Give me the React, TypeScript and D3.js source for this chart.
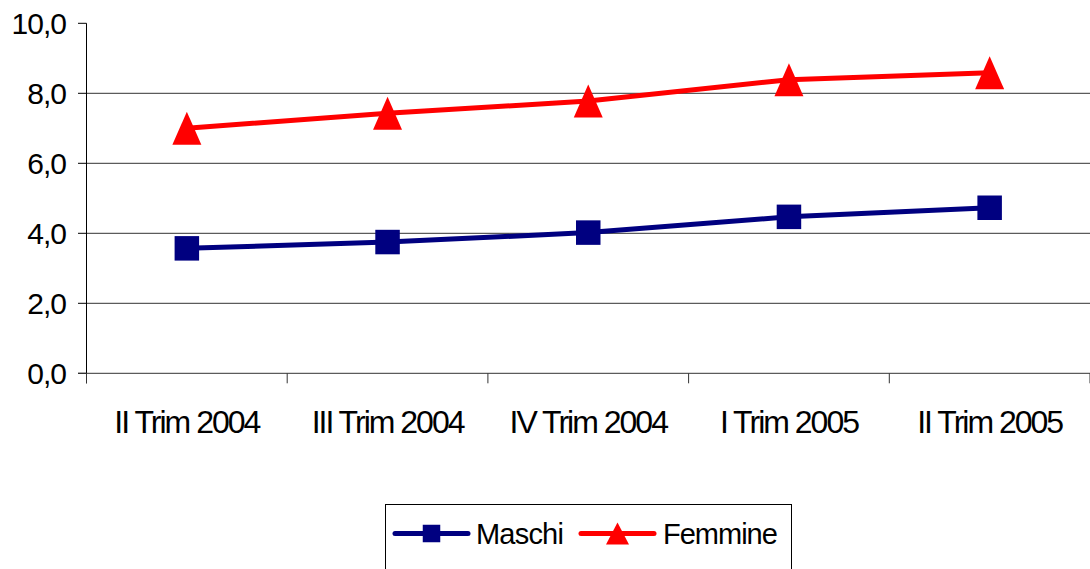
import React from "react";
import * as d3 from "d3";

const WIDTH = 1090;
const HEIGHT = 569;
const MARGIN = { top: 23.3, right: 0, bottom: 195.7, left: 86.5 };

const categories = ["II Trim 2004", "III Trim 2004", "IV Trim 2004", "I Trim 2005", "II Trim 2005"];
const maschi = [3.57, 3.75, 4.02, 4.47, 4.73];
const femmine = [7.0, 7.43, 7.78, 8.39, 8.59];
const yTicks = [0, 2, 4, 6, 8, 10];
const seriesNames = ["Maschi", "Femmine"];

const NAVY = "#000080";
const RED = "#ff0000";
const FONT = "'Liberation Sans', Arial, sans-serif";

const fmt = (v: number) => v.toFixed(1).replace(".", ",");

const Square = ({ x, y, s }: { x: number; y: number; s: number }) => (
  <rect x={x - s / 2} y={y - s / 2} width={s} height={s} fill={NAVY} />
);

const Triangle = ({ x, y, w, h }: { x: number; y: number; w: number; h: number }) => (
  <path
    d={`M${x},${y - h / 2} L${x + w / 2},${y + h / 2} L${x - w / 2},${y + h / 2} Z`}
    fill={RED}
  />
);

export default function App() {
  const boundsW = WIDTH - MARGIN.left - MARGIN.right;
  const boundsH = HEIGHT - MARGIN.top - MARGIN.bottom;

  const x = d3.scaleBand<string>().domain(categories).range([0, boundsW]);
  const y = d3.scaleLinear().domain([0, 10]).range([boundsH, 0]);
  const cx = (c: string) => (x(c) || 0) + x.bandwidth() / 2;

  const line = d3
    .line<number>()
    .x((_, i) => cx(categories[i]))
    .y((d) => y(d));

  // tick boundaries between categories
  const bounds = categories.map((c) => x(c) || 0).concat([boundsW]);

  return (
    <div style={{ position: "absolute", left: 0, top: 0 }}>
      <svg width={WIDTH} height={HEIGHT} style={{ display: "block", background: "#fff" }}>
        <g transform={`translate(${MARGIN.left},${MARGIN.top})`}>
          {/* gridlines */}
          {yTicks.filter((t) => t > 0 && t < 10).map((t) => (
            <line key={t} x1={0} x2={boundsW} y1={y(t)} y2={y(t)} stroke="#333" strokeWidth={1} />
          ))}
          {/* y axis */}
          <line x1={0} x2={0} y1={y(10)} y2={boundsH + 10} stroke="#000" strokeWidth={1} />
          {yTicks.map((t) => (
            <g key={t}>
              <line x1={-8.5} x2={0} y1={y(t)} y2={y(t)} stroke="#000" strokeWidth={1} />
              <text
                x={-20.5}
                y={y(t)}
                dy="0.35em"
                textAnchor="end"
                fontFamily={FONT}
                fontSize={30}
                letterSpacing={-1}
                fill="#000"
              >
                {fmt(t)}
              </text>
            </g>
          ))}
          {/* x axis */}
          <line x1={-8.5} x2={boundsW} y1={boundsH} y2={boundsH} stroke="#333" strokeWidth={1} />
          {bounds.map((b, i) => (
            <line key={i} x1={b} x2={b} y1={boundsH} y2={boundsH + 10} stroke="#333" strokeWidth={1} />
          ))}
          {categories.map((c) => (
            <text
              key={c}
              x={cx(c)}
              y={boundsH + 59.4}
              textAnchor="middle"
              fontFamily={FONT}
              fontSize={32}
              letterSpacing={-2}
              fill="#000"
            >
              {c}
            </text>
          ))}
          {/* series */}
          <path d={line(maschi) || ""} fill="none" stroke={NAVY} strokeWidth={5} />
          <path d={line(femmine) || ""} fill="none" stroke={RED} strokeWidth={5} />
          {maschi.map((v, i) => (
            <Square key={i} x={cx(categories[i])} y={y(v)} s={24.5} />
          ))}
          {femmine.map((v, i) => (
            <Triangle key={i} x={cx(categories[i])} y={y(v)} w={29} h={33} />
          ))}
        </g>
        {/* legend */}
        <g>
          <rect x={385.5} y={504.5} width={406} height={80} fill="#fff" stroke="#000" strokeWidth={1} />
          <line x1={395} x2={468} y1={533.5} y2={533.5} stroke={NAVY} strokeWidth={5} strokeLinecap="round" />
          <Square x={431.5} y={533.5} s={17.5} />
          <text x={476} y={544} fontFamily={FONT} fontSize={29} letterSpacing={-0.8} fill="#000">
            {seriesNames[0]}
          </text>
          <line x1={581} x2={654} y1={533.5} y2={533.5} stroke={RED} strokeWidth={5} strokeLinecap="round" />
          <Triangle x={617.5} y={533.5} w={23} h={22} />
          <text x={663} y={544} fontFamily={FONT} fontSize={29} letterSpacing={-1} fill="#000">
            {seriesNames[1]}
          </text>
        </g>
      </svg>
    </div>
  );
}
